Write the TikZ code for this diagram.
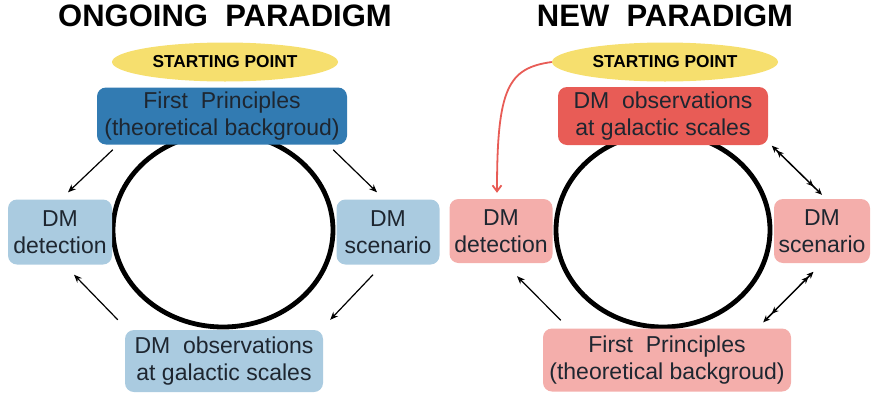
\documentclass[tikz,border=0pt]{standalone}
\usepackage{fontspec}
\setmainfont{Liberation Sans}
\usepackage{xcolor}
\usetikzlibrary{shapes.geometric, arrows.meta, positioning}
\definecolor{ongoing}{RGB}{50,123,178}
\definecolor{ongoinglight}{RGB}{170,203,224}
\definecolor{newred}{RGB}{232,92,86}
\definecolor{newlight}{RGB}{244,174,171}
\definecolor{startfill}{RGB}{246,223,110}
\definecolor{boxtext}{RGB}{30,38,48}
\tikzset{
    cyclebox/.style={rectangle, rounded corners=9pt, text centered, align=center, text=boxtext, font=\fontsize{23}{27}\selectfont, inner sep=0pt},
    startpoint/.style={ellipse, fill=startfill, minimum width=226pt, minimum height=39pt, inner sep=0pt, font=\bfseries\fontsize{17.3}{19}\selectfont},
    title/.style={font=\bfseries\fontsize{31}{35}\selectfont, anchor=base},
    loop/.style={ellipse, draw, line width=4.8pt, inner sep=0pt},
    flow/.style={-{Stealth[length=8pt,width=6.5pt]}, line width=1.2pt},
    both/.style={{Stealth[length=7pt,width=6pt,sep=5pt]Stealth[length=7pt,width=6pt]}-{Stealth[length=7pt,width=6pt,sep=5pt]Stealth[length=7pt,width=6pt]}, line width=1.5pt},
    redflow/.style={-{Straight Barb[length=6pt,width=9pt]}, color=newred, line width=1.8pt}
}
\begin{document}
\begin{tikzpicture}[x=1pt, y=-1pt]
    \useasboundingbox (0,0) rectangle (871,397);

    % Titles
    \node[title] (titleA) at (225,26) {ONGOING\ \ PARADIGM};
    \node[title] (titleB) at (665,26) {NEW\ \ PARADIGM};

    % Ongoing paradigm
    \node[loop, minimum width=220pt, minimum height=194pt] (loopA) at (223,230) {};
    \node[startpoint] (startA) at (225,62) {STARTING POINT};
    \node[cyclebox, fill=ongoing, minimum width=250pt, minimum height=57pt] (firstA) at (222,116) {First\ \ Principles\\(theoretical backgroud)};
    \node[cyclebox, fill=ongoinglight, minimum width=104pt, minimum height=65pt] (detA) at (60,232) {DM\\detection};
    \node[cyclebox, fill=ongoinglight, minimum width=103pt, minimum height=65pt] (scenA) at (388,232) {DM\\scenario};
    \node[cyclebox, fill=ongoinglight, minimum width=198pt, minimum height=62pt] (obsA) at (224,361) {DM\ \ observations\\at galactic scales};

    \draw[flow] ([shift={(16,5)}]firstA.south west) -- ([shift={(8,-7)}]detA.north);
    \draw[flow] ([shift={(-14,5)}]firstA.south east) -- ([shift={(-11,-7)}]scenA.north);
    \draw[flow] ([shift={(-15,10)}]scenA.south) -- ([shift={(7,-10)}]obsA.north east);
    \draw[flow] ([shift={(-7,-10)}]obsA.north west) -- ([shift={(14,10)}]detA.south);

    % New paradigm
    \node[loop, minimum width=214pt, minimum height=194pt] (loopB) at (663,230) {};
    \node[startpoint] (startB) at (665,62) {STARTING POINT};
    \node[cyclebox, fill=newred, minimum width=210pt, minimum height=58pt] (obsB) at (663,116) {DM\ \ observations\\at galactic scales};
    \node[cyclebox, fill=newlight, minimum width=103pt, minimum height=64pt] (detB) at (501,231) {DM\\detection};
    \node[cyclebox, fill=newlight, minimum width=96pt, minimum height=64pt] (scenB) at (822,231) {DM\\scenario};
    \node[cyclebox, fill=newlight, minimum width=248pt, minimum height=63pt] (firstB) at (667,360) {First\ \ Principles\\(theoretical backgroud)};

    \draw[redflow] (startB.west) .. controls (508,68) and (497,88) .. ([shift={(-4,-6)}]detB.north);
    \draw[both] ([shift={(0,-3)}]obsB.south east) -- ([shift={(0,-4)}]scenB.north);
    \draw[both] ([shift={(-5,5)}]scenB.south) -- ([shift={(-28,-6)}]firstB.north east);
    \draw[flow] ([shift={(18,-8)}]firstB.north west) -- ([shift={(16,13)}]detB.south);
\end{tikzpicture}
\end{document}
